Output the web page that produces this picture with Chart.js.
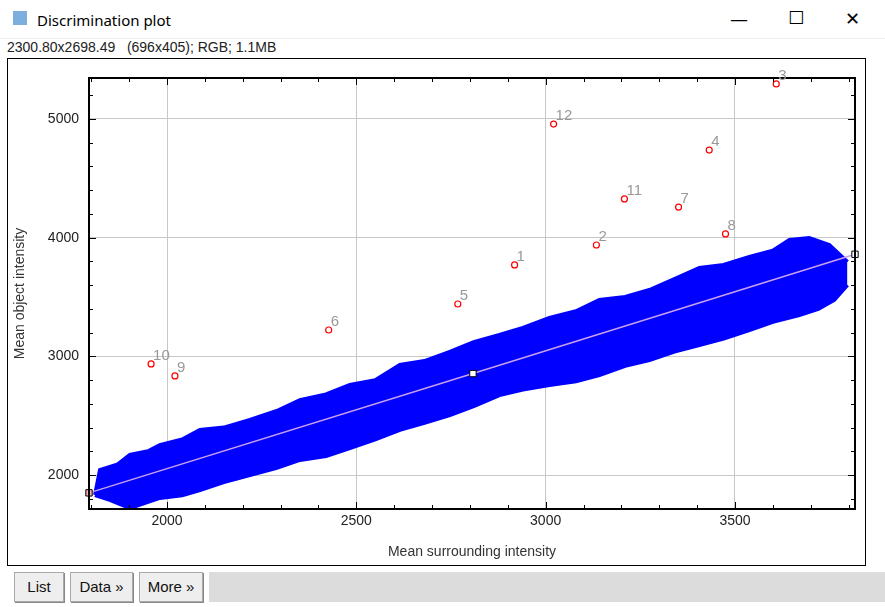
<!DOCTYPE html>
<html>
<head>
<meta charset="utf-8">
<script src="https://cdn.jsdelivr.net/npm/chart.js@4"></script>
<style>
  body { margin: 0; width: 885px; height: 607px; background: #fff; font-family: "Liberation Sans", Arial, sans-serif; position: relative; overflow: hidden; }
  #title { position: absolute; left: 0; top: 0; width: 885px; height: 38px; border-bottom: 1px solid #eee; }
  #title .txt { position: absolute; left: 37px; top: 10px; font-size: 15px; font-family: "Noto Sans", sans-serif; color: #000; }
  #title .ico { position: absolute; left: 13px; top: 11px; width: 14px; height: 14px; background: #5b9bd5; opacity: .8; }
  .ctl { position: absolute; top: 8px; font-size: 18px; color: #000; font-family: "DejaVu Sans", sans-serif; }
  #info { position: absolute; left: 7px; top: 39px; font-size: 14px; color: #222; }
  #frame { position: absolute; left: 7px; top: 58px; width: 857px; height: 506px; border: 1px solid #000; }
  .btn { position: absolute; top: 572px; height: 28px; background: #eee; border: 1px solid #aaa; box-shadow: 1px 1px 0 #888; font-size: 15px; line-height: 28px; text-align: center; color: #111; }
  #bar { position: absolute; left: 209px; top: 572px; width: 676px; height: 30px; background: #dcdcdc; }
</style>
</head>
<body>
<div id="title"><div class="ico"></div><div class="txt">Discrimination plot</div>
  <div class="ctl" style="left:730px;">&#8212;</div>
  <div class="ctl" style="left:788px;top:7px;">&#9744;</div>
  <div class="ctl" style="left:845px;">&#10005;</div>
</div>
<div id="info">2300.80x2698.49&nbsp;&nbsp; (696x405); RGB; 1.1MB</div>
<div id="frame"><canvas id="plot" width="857" height="506"></canvas></div>
<div class="btn" style="left:14px;width:48px;">List</div>
<div class="btn" style="left:70px;width:61px;">Data »</div>
<div class="btn" style="left:139px;width:62px;">More »</div>
<div id="bar"></div>
<script>
// Outlier objects (labelled)
const outlierLabels = ['1','2','3','4','5','6','7','8','9','10','11','12'];
const outlierX = [2918, 3134, 3609, 3432, 2768, 2427, 3351, 3475, 2021, 1958, 3208, 3021];
const outlierY = [3770, 3938, 5295, 4738, 3441, 3222, 4258, 4031, 2835, 2936, 4326, 4957];

// Edges of the dense blue point cloud
const cloudTopX = [1810, 1823, 1870, 1902, 1950, 1981, 2040, 2087, 2150, 2219, 2290, 2351, 2420, 2483, 2550, 2615, 2680, 2747, 2810, 2878, 2940, 3010, 3080, 3142, 3210, 3274, 3340, 3406, 3470, 3538, 3600, 3644, 3696, 3749, 3797];
const cloudTopY = [1832, 2043, 2090, 2169, 2200, 2253, 2300, 2380, 2400, 2464, 2540, 2632, 2680, 2759, 2800, 2927, 2960, 3037, 3120, 3180, 3240, 3323, 3380, 3475, 3500, 3559, 3650, 3744, 3770, 3837, 3890, 3980, 3997, 3938, 3795];
const cloudBotX = [1810, 1849, 1902, 1981, 2040, 2087, 2150, 2219, 2290, 2351, 2420, 2483, 2550, 2615, 2680, 2747, 2810, 2878, 2940, 3010, 3080, 3142, 3210, 3274, 3340, 3406, 3470, 3538, 3600, 3670, 3720, 3762, 3797];
const cloudBotY = [1832, 1790, 1722, 1807, 1830, 1874, 1940, 2000, 2060, 2127, 2160, 2228, 2300, 2380, 2440, 2506, 2580, 2674, 2720, 2759, 2790, 2843, 2920, 2969, 3040, 3096, 3150, 3222, 3290, 3348, 3400, 3475, 3601];

// Fit line and its handles
const fitX = [1794, 2808, 3817];
const fitY = [1850, 2855, 3860];

const xMin = 1794, xMax = 3817, yMin = 1714, yMax = 5345;

const pts = (xs, ys) => xs.map((x, i) => ({ x: x, y: ys[i] }));

const insideTicks = {
  id: 'insideTicks',
  afterDraw(chart) {
    const c = chart.ctx, a = chart.chartArea;
    c.save();
    c.strokeStyle = '#000';
    c.lineWidth = 1;
    chart.scales.x.ticks.forEach(t => {
      const p = Math.round(chart.scales.x.getPixelForValue(t.value)) + 0.5;
      const len = t.value % 500 === 0 ? 7 : 4;
      c.beginPath();
      c.moveTo(p, a.bottom); c.lineTo(p, a.bottom - len);
      c.moveTo(p, a.top); c.lineTo(p, a.top + len);
      c.stroke();
    });
    chart.scales.y.ticks.forEach(t => {
      const p = Math.round(chart.scales.y.getPixelForValue(t.value)) + 0.5;
      const len = t.value % 1000 === 0 ? 7 : 4;
      c.beginPath();
      c.moveTo(a.left, p); c.lineTo(a.left + len, p);
      c.moveTo(a.right, p); c.lineTo(a.right - len, p);
      c.stroke();
    });
    c.lineWidth = 2;
    c.strokeRect(a.left, a.top, a.right - a.left, a.bottom - a.top);
    // outlier numbers
    const meta = chart.getDatasetMeta(0);
    c.fillStyle = '#999';
    c.font = '15px "Liberation Sans", Arial, sans-serif';
    meta.data.forEach((el, i) => {
      c.fillText(outlierLabels[i], el.x + 2, el.y - 4);
    });
    c.restore();
  }
};

const buildTicks = (step) => (scale) => {
  const out = [];
  for (let v = Math.ceil(scale.min / step) * step; v <= scale.max; v += step) out.push({ value: v });
  scale.ticks = out;
};

const fnt = { size: 14, family: '"Liberation Sans", Arial' };

new Chart(document.getElementById('plot'), {
  type: 'scatter',
  data: {
    datasets: [
      { data: pts(outlierX, outlierY), pointRadius: 3, pointBorderColor: '#ff0000', pointBackgroundColor: '#fff', pointBorderWidth: 1.2, order: 0 },
      { data: pts(cloudTopX, cloudTopY), showLine: true, pointRadius: 0, borderColor: '#0000ff', borderWidth: 4, backgroundColor: '#0000ff', fill: '+1', tension: 0, order: 3 },
      { data: pts(cloudBotX, cloudBotY), showLine: true, pointRadius: 0, borderColor: '#0000ff', borderWidth: 4, fill: false, tension: 0, order: 3 },
      { data: pts(fitX, fitY), showLine: true, borderColor: '#c9a0e8', borderWidth: 1.5,
        pointStyle: 'rect', pointRadius: 4.5, pointBorderColor: '#000', pointBorderWidth: 1,
        pointBackgroundColor: ['#ffb0b0', '#ffffff', '#ffffff'], order: 1, clip: false }
    ]
  },
  options: {
    responsive: false,
    animation: false,
    layout: { padding: { top: 19, right: 10, left: 0, bottom: 0 } },
    plugins: { legend: { display: false }, tooltip: { enabled: false } },
    scales: {
      x: {
        min: xMin, max: xMax,
        afterBuildTicks: buildTicks(100),
        afterFit: s => { s.height = 56; },
        ticks: { autoSkip: false, maxRotation: 0, color: '#222', font: fnt, padding: 4,
          callback: v => v % 500 === 0 ? v : '' },
        grid: { color: ctx => ctx.tick && ctx.tick.value % 500 === 0 ? '#c8c8c8' : 'rgba(0,0,0,0)', drawTicks: false },
        border: { display: false },
        title: { display: true, text: 'Mean surrounding intensity', color: '#333', font: fnt, padding: { top: 0 } }
      },
      y: {
        min: yMin, max: yMax,
        afterBuildTicks: buildTicks(200),
        afterFit: s => { s.width = 81; },
        ticks: { autoSkip: false, color: '#222', font: fnt, padding: 10,
          callback: v => v % 1000 === 0 ? v : '' },
        grid: { color: ctx => ctx.tick && ctx.tick.value % 1000 === 0 ? '#c8c8c8' : 'rgba(0,0,0,0)', drawTicks: false },
        border: { display: false },
        title: { display: true, text: 'Mean object intensity', color: '#333', font: fnt, padding: { bottom: 0 } }
      }
    }
  },
  plugins: [insideTicks]
});
</script>
</body>
</html>
